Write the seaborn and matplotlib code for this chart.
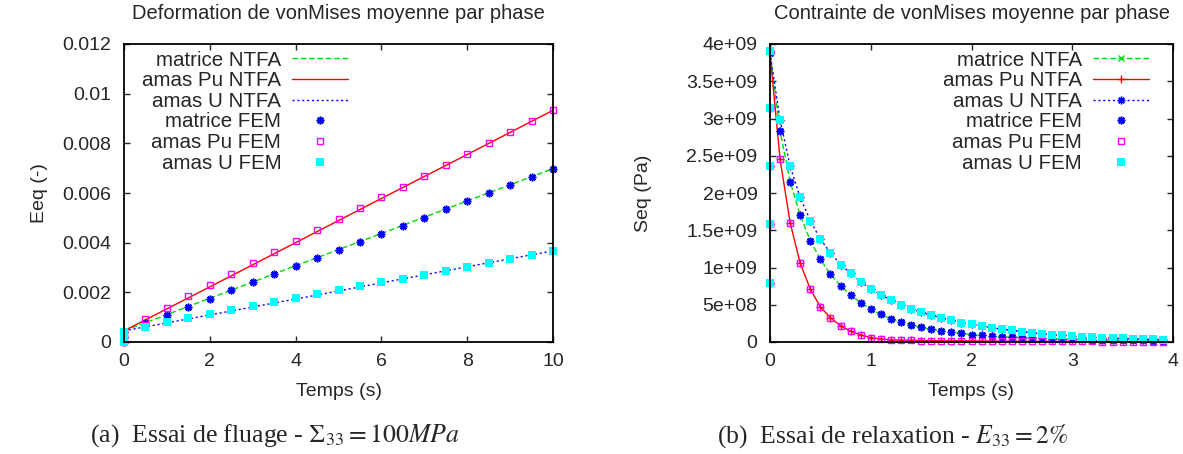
import seaborn as sns
import matplotlib.pyplot as plt
from matplotlib.ticker import FuncFormatter, MultipleLocator

# ---------------- essai de fluage (gauche) ----------------
t_fem_fl = [0, 0, 0, 0.5, 1.0, 1.5, 2.0, 2.5, 3.0, 3.5, 4.0, 4.5, 5.0,
            5.5, 6.0, 6.5, 7.0, 7.5, 8.0, 8.5, 9.0, 9.5, 10.0]
eq_mat_fem = [0, 0.0002, 0.0004, 0.00076, 0.00109, 0.00142, 0.00173, 0.00208,
              0.00240, 0.00273, 0.00305, 0.00337, 0.00370, 0.00403, 0.00436,
              0.00468, 0.00501, 0.00534, 0.00567, 0.00600, 0.00633, 0.00666, 0.00698]
eq_pu_fem = [0, 0.00021, 0.00042, 0.00093, 0.00138, 0.00185, 0.00230, 0.00274,
             0.00318, 0.00361, 0.00405, 0.00451, 0.00494, 0.00538, 0.00582,
             0.00626, 0.00670, 0.00714, 0.00758, 0.00802, 0.00846, 0.00890, 0.00933]
eq_u_fem = [0, 0.0002, 0.0004, 0.00062, 0.00079, 0.00098, 0.00113, 0.00130,
            0.00145, 0.00162, 0.00177, 0.00194, 0.00209, 0.00225, 0.00240,
            0.00255, 0.00271, 0.00287, 0.00303, 0.00319, 0.00335, 0.00351, 0.00367]

t_ntfa_fl = [0, 2, 4, 6, 8, 10]
eq_mat_ntfa = [0.00045, 0.00176, 0.00307, 0.00437, 0.00568, 0.00698]
eq_pu_ntfa = [0.00045, 0.00222, 0.00400, 0.00578, 0.00755, 0.00933]
eq_u_ntfa = [0.00045, 0.00109, 0.00173, 0.00238, 0.00303, 0.00367]

# ---------------- essai de relaxation (droite) ----------------
t_relax = [0.1, 0.2, 0.3, 0.4, 0.5, 0.6, 0.7, 0.8, 0.9, 1.0,
           1.1, 1.2, 1.3, 1.4, 1.5, 1.6, 1.7, 1.8, 1.9, 2.0,
           2.1, 2.2, 2.3, 2.4, 2.5, 2.6, 2.7, 2.8, 2.9, 3.0,
           3.1, 3.2, 3.3, 3.4, 3.5, 3.6, 3.7, 3.8, 3.9]
ramp = [0.79e9, 1.58e9, 2.36e9, 3.14e9, 3.91e9]   # chargement a t=0

seq_mat = [2.83, 2.15, 1.70, 1.36, 1.11, 0.91, 0.755, 0.63, 0.53, 0.44,
           0.37, 0.31, 0.265, 0.23, 0.197, 0.17, 0.15, 0.134, 0.115, 0.10,
           0.09, 0.08, 0.072, 0.066, 0.06, 0.055, 0.05, 0.046, 0.042, 0.039,
           0.036, 0.033, 0.03, 0.028, 0.026, 0.024, 0.022, 0.02, 0.019]
seq_pu = [2.45, 1.60, 1.056, 0.71, 0.47, 0.326, 0.22, 0.145, 0.094, 0.06,
          0.04, 0.03, 0.025, 0.022, 0.02, 0.018, 0.017, 0.016, 0.015, 0.014,
          0.013, 0.012, 0.011, 0.011, 0.01, 0.01, 0.009, 0.009, 0.008, 0.008,
          0.007, 0.007, 0.006, 0.006, 0.006, 0.005, 0.005, 0.005, 0.005]
seq_u = [2.98, 2.36, 1.94, 1.63, 1.38, 1.20, 1.04, 0.92, 0.81, 0.71,
         0.635, 0.56, 0.50, 0.447, 0.40, 0.36, 0.326, 0.29, 0.26, 0.235,
         0.215, 0.19, 0.175, 0.155, 0.14, 0.125, 0.11, 0.10, 0.09, 0.08,
         0.072, 0.065, 0.058, 0.052, 0.047, 0.042, 0.038, 0.034, 0.031]
seq0_ntfa = 3.88e9

sns.set_style("ticks")
plt.rcParams["font.family"] = ["Liberation Sans", "DejaVu Sans"]
plt.rcParams["mathtext.fontset"] = "stix"
plt.rcParams["xtick.direction"] = "in"
plt.rcParams["ytick.direction"] = "in"
plt.rcParams["xtick.top"] = True
plt.rcParams["ytick.right"] = True

FS = 14
green, red, blue = "#00dd00", "#ff0000", "#0000ff"
magenta, cyan = "#ff00ff", "#00ffff"
star = (8, 2, 0)

fig = plt.figure(figsize=(11.83, 4.54), dpi=100)
ax1 = fig.add_axes([124 / 1183, 112 / 454, 429 / 1183, 298 / 454])
ax2 = fig.add_axes([770 / 1183, 112 / 454, 403 / 1183, 298 / 454])

common = dict(estimator=None, sort=False)

# gauche
sns.lineplot(x=t_ntfa_fl, y=eq_mat_ntfa, ax=ax1, color=green, lw=1, ls=(0, (4, 2)),
             label="matrice NTFA", **common)
sns.lineplot(x=t_ntfa_fl, y=eq_pu_ntfa, ax=ax1, color=red, lw=1, label="amas Pu NTFA", **common)
sns.lineplot(x=t_ntfa_fl, y=eq_u_ntfa, ax=ax1, color=blue, lw=1, ls=(0, (1.5, 2)),
             label="amas U NTFA", **common)
sns.lineplot(x=t_fem_fl, y=eq_mat_fem, ax=ax1, ls="none", marker=star, ms=5.5, mew=1.2,
             mec=blue, color=blue, label="matrice FEM", clip_on=False, **common)
sns.lineplot(x=t_fem_fl, y=eq_pu_fem, ax=ax1, ls="none", marker="s", ms=5, mew=1,
             mec=magenta, mfc="none", color=magenta, label="amas Pu FEM", clip_on=False, **common)
sns.lineplot(x=t_fem_fl, y=eq_u_fem, ax=ax1, ls="none", marker="s", ms=5.5, mew=0,
             mec=cyan, color=cyan, label="amas U FEM", clip_on=False, **common)

# droite
t_ntfa_rel = [0] + t_relax
t_fem_rel = [0] * len(ramp) + t_relax
sns.lineplot(x=t_ntfa_rel, y=[seq0_ntfa] + [v * 1e9 for v in seq_mat], ax=ax2, color=green,
             lw=1, ls=(0, (4, 2)), marker="x", ms=5, mew=1, mec=green,
             label="matrice NTFA", **common)
sns.lineplot(x=t_ntfa_rel, y=[seq0_ntfa] + [v * 1e9 for v in seq_pu], ax=ax2, color=red,
             lw=1, marker="+", ms=6, mew=1, mec=red, label="amas Pu NTFA", **common)
sns.lineplot(x=t_ntfa_rel, y=[seq0_ntfa] + [v * 1e9 for v in seq_u], ax=ax2, color=blue,
             lw=1, ls=(0, (1.5, 2)), marker=star, ms=5.5, mew=1, mec=blue,
             label="amas U NTFA", **common)
sns.lineplot(x=t_fem_rel, y=ramp + [v * 1e9 for v in seq_mat], ax=ax2, ls="none", marker=star,
             ms=5.5, mew=1.2, mec=blue, color=blue, label="matrice FEM", clip_on=False, **common)
sns.lineplot(x=t_fem_rel, y=ramp + [v * 1e9 for v in seq_pu], ax=ax2, ls="none", marker="s",
             ms=5, mew=1, mec=magenta, mfc="none", color=magenta, label="amas Pu FEM",
             clip_on=False, **common)
sns.lineplot(x=t_fem_rel, y=ramp + [v * 1e9 for v in seq_u], ax=ax2, ls="none", marker="s",
             ms=5.5, mew=0, mec=cyan, color=cyan, label="amas U FEM", clip_on=False, **common)

ax1.set_xlim(0, 10)
ax1.set_ylim(0, 0.012)
ax1.xaxis.set_major_locator(MultipleLocator(2))
ax1.yaxis.set_major_locator(MultipleLocator(0.002))
ax2.set_xlim(0, 4)
ax2.set_ylim(0, 4e9)
ax2.xaxis.set_major_locator(MultipleLocator(1))
ax2.yaxis.set_major_locator(MultipleLocator(5e8))

fmt = FuncFormatter(lambda v, p: "%g" % round(v, 12))
for ax, title, ylab, ylx in [(ax1, "Deformation de vonMises moyenne par phase", "Eeq (-)", -0.196),
                             (ax2, "Contrainte de vonMises moyenne par phase", "Seq (Pa)", -0.313)]:
    ax.yaxis.set_major_formatter(fmt)
    ax.xaxis.set_major_formatter(fmt)
    ax.tick_params(labelsize=FS, length=4.5, width=1, pad=8)
    ax.tick_params(axis="y", pad=9)
    for s in ax.spines.values():
        s.set_linewidth(1.3)
        s.set_color("black")
    ax.set_title(title, fontsize=14.5, pad=18)
    ax.set_xlabel("Temps (s)", fontsize=FS)
    ax.set_ylabel(ylab, fontsize=FS)
    ax.xaxis.set_label_coords(0.5, -0.167)
    ax.xaxis.label.set_va("center")
    ax.yaxis.set_label_coords(ylx, 0.5)
    ax.yaxis.label.set_va("center")

# legende facon gnuplot : texte a gauche, aligne a droite
for ax, xr in [(ax1, 0.522), (ax2, 0.94)]:
    ax.legend(loc="upper right", bbox_to_anchor=(xr, 0.978), frameon=False,
              markerfirst=False, fontsize=14.8, handlelength=2.7, handletextpad=0.55,
              labelspacing=0.08, borderpad=0, borderaxespad=0)

fig.text(275 / 1183, 1 - 436 / 454, r"(a)  Essai de fluage - $\Sigma_{33} = 100MPa$",
         family=["Liberation Serif", "DejaVu Serif"], fontsize=18.5, ha="center", va="center")
fig.text(893 / 1183, 1 - 436 / 454, r"(b)  Essai de relaxation - $E_{33} = 2\%$",
         family=["Liberation Serif", "DejaVu Serif"], fontsize=18.5, ha="center", va="center")

fig.savefig("out.png", dpi=100)
